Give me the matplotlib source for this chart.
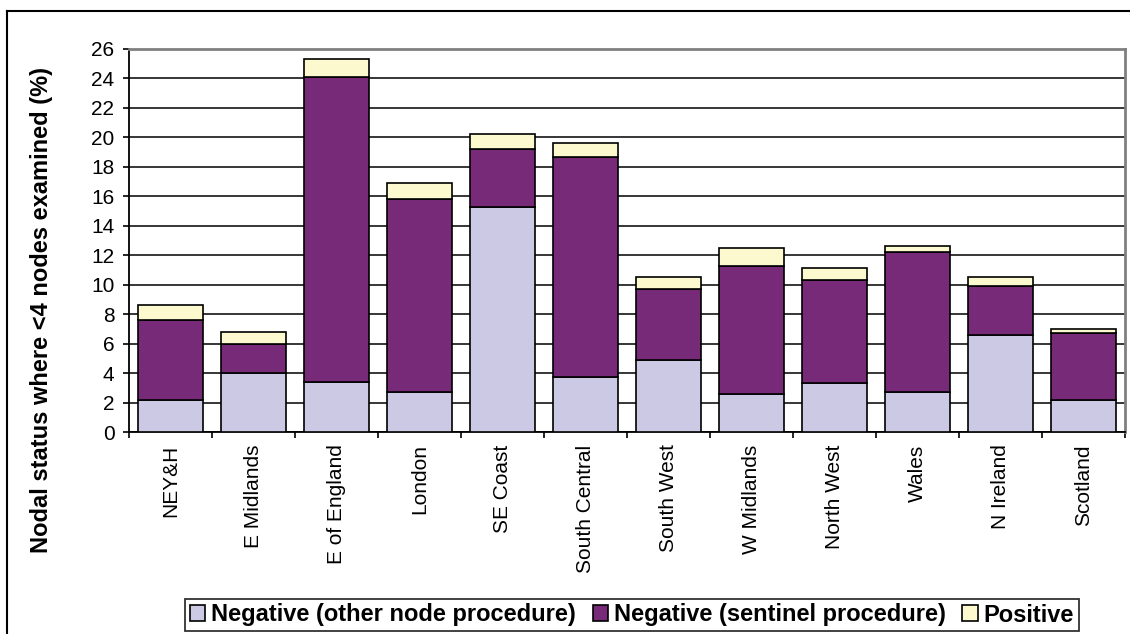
import numpy as np
import matplotlib
matplotlib.use('Agg')
import matplotlib.pyplot as plt
from matplotlib.lines import Line2D

plt.rcParams['font.family'] = ['Liberation Sans', 'DejaVu Sans']

# 各地区数据
regions = ['NEY&H', 'E Midlands', 'E of England', 'London', 'SE Coast', 'South Central',
           'South West', 'W Midlands', 'North West', 'Wales', 'N Ireland', 'Scotland']
neg_other = [2.2, 4.0, 3.4, 2.7, 15.3, 3.7, 4.9, 2.6, 3.3, 2.7, 6.6, 2.2]
neg_sentinel = [5.4, 2.0, 20.7, 13.1, 3.9, 15.0, 4.8, 8.7, 7.0, 9.5, 3.3, 4.5]
positive = [1.0, 0.8, 1.2, 1.1, 1.0, 0.9, 0.8, 1.2, 0.8, 0.4, 0.6, 0.3]
series_names = ['Negative (other node procedure)', 'Negative (sentinel procedure)', 'Positive']
y_ticks = list(range(0, 27, 2))

colors = ['#CBC9E4', '#772A78', '#FBF9CD']
W, H = 1130, 634

fig = plt.figure(figsize=(W/100, H/100), dpi=100)
ax = fig.add_axes([129/W, 1-432/H, (1125-129)/W, (432-49)/H])

x = np.arange(len(regions))
bottom = np.zeros(len(regions))
bars = []
for vals, c, name in zip([neg_other, neg_sentinel, positive], colors, series_names):
    b = ax.bar(x, vals, 0.78, bottom=bottom, color=c, edgecolor='black', linewidth=1.2,
               label=name, zorder=3)
    bars.append(b)
    bottom = bottom + np.array(vals)

# 坐标轴
ax.set_xlim(-0.5, len(regions) - 0.5)
ax.set_ylim(0, 26)
ax.set_yticks(y_ticks)
ax.set_yticklabels([str(t) for t in y_ticks], fontsize=15)
ax.yaxis.grid(True, color='black', linewidth=1.1, zorder=0)
ax.set_axisbelow(True)

ax.set_xticks(x)
ax.set_xticklabels(regions, rotation=90, fontsize=15, va='top')
ax.tick_params(axis='x', which='major', length=0, pad=9)
ax.set_xticks(np.arange(-0.5, len(regions), 1), minor=True)
ax.tick_params(axis='x', which='minor', length=4, width=1.2, direction='out')
ax.tick_params(axis='y', length=4.5, width=1.2, direction='out', pad=6)

for s in ['left', 'bottom']:
    ax.spines[s].set_color('black')
    ax.spines[s].set_linewidth(1.3)
for s in ['top', 'right']:
    ax.spines[s].set_color('#808080')
    ax.spines[s].set_linewidth(2)

# y轴标题, 居中于整个绘图区(含分类标签)
fig.text(42/W, 1-310/H, 'Nodal status where <4 nodes examined (%)', rotation=90,
         ha='center', va='center', fontsize=17, fontweight='bold')

# 图例
leg = fig.legend(handles=[b[0] for b in bars], labels=series_names, ncol=3,
                 loc='center', bbox_to_anchor=(632/W, 1-615/H),
                 prop={'size': 17, 'weight': 'bold'}, frameon=True, fancybox=False,
                 handlelength=0.65, handleheight=0.65, handletextpad=0.25,
                 columnspacing=0.7, borderpad=0.2, borderaxespad=0)
leg.get_frame().set_edgecolor('black')
leg.get_frame().set_linewidth(1.3)

# 外框
fig.add_artist(Line2D([7/W, 7/W], [0, 1-11/H], color='black', linewidth=1.5,
                      transform=fig.transFigure))
fig.add_artist(Line2D([7/W, 1], [1-11/H, 1-11/H], color='black', linewidth=1.5,
                      transform=fig.transFigure))

fig.savefig('out.png', dpi=100)
